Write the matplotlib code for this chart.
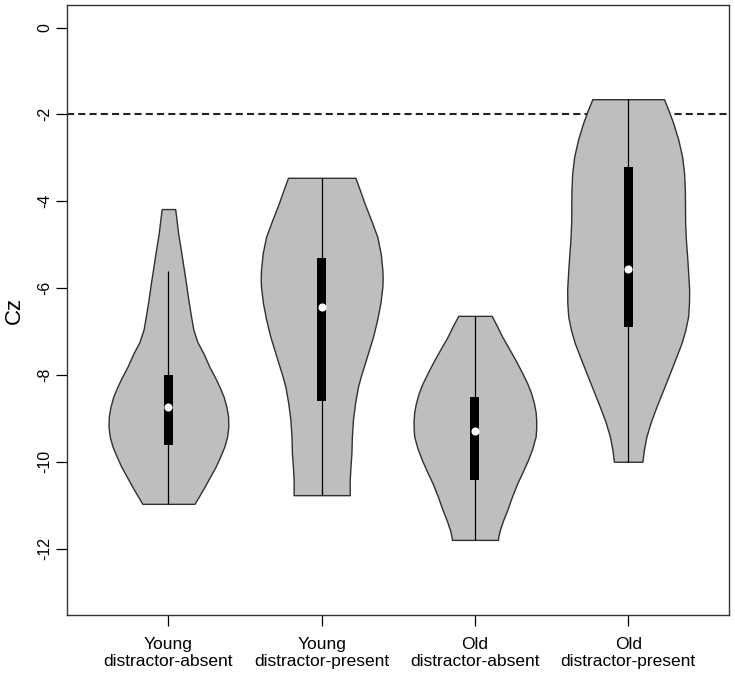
import matplotlib
matplotlib.use("Agg")
import matplotlib.pyplot as plt
import numpy as np

plt.rcParams['font.family'] = ['Liberation Sans', 'DejaVu Sans']

categories = ["Young\ndistractor-absent", "Young\ndistractor-present",
              "Old\ndistractor-absent", "Old\ndistractor-present"]

# violin outlines: y levels and half-widths
v1_y = [-4.18, -4.40, -4.73, -5.10, -5.51, -5.90, -6.27, -6.60, -6.95, -7.25, -7.50, -7.81, -8.05,
        -8.27, -8.50, -8.73, -8.95, -9.19, -9.42, -9.65, -9.88, -10.12, -10.35, -10.58, -10.78, -10.97]
v1_w = [0.044, 0.052, 0.063, 0.080, 0.098, 0.115, 0.130, 0.145, 0.162, 0.190, 0.228, 0.267, 0.303,
        0.333, 0.360, 0.378, 0.389, 0.391, 0.383, 0.365, 0.338, 0.307, 0.271, 0.235, 0.202, 0.170]
v2_y = [-3.46, -3.75, -4.05, -4.43, -4.82, -5.20, -5.58, -5.80, -5.97, -6.35, -6.73, -7.12, -7.43,
        -7.73, -8.00, -8.27, -8.65, -9.04, -9.43, -9.81, -10.10, -10.42, -10.77]
v2_w = [0.220, 0.250, 0.280, 0.322, 0.363, 0.385, 0.396, 0.398, 0.396, 0.383, 0.362, 0.335, 0.308,
        0.282, 0.258, 0.237, 0.218, 0.204, 0.197, 0.194, 0.188, 0.183, 0.183]
v3_y = [-6.64, -6.88, -7.12, -7.39, -7.66, -7.93, -8.19, -8.42, -8.65, -8.85, -9.04, -9.23, -9.42,
        -9.69, -9.96, -10.23, -10.50, -10.80, -11.11, -11.34, -11.57, -11.70, -11.80]
v3_w = [0.109, 0.145, 0.178, 0.222, 0.265, 0.305, 0.341, 0.367, 0.385, 0.396, 0.400, 0.400, 0.396,
        0.375, 0.346, 0.312, 0.276, 0.242, 0.211, 0.185, 0.163, 0.154, 0.150]
v4_y = [-1.65, -1.92, -2.20, -2.58, -2.97, -3.35, -3.74, -4.12, -4.51, -4.90, -5.28, -5.66, -6.04,
        -6.35, -6.66, -6.97, -7.27, -7.60, -7.96, -8.35, -8.73, -9.08, -9.42, -9.72, -10.00]
v4_w = [0.234, 0.265, 0.294, 0.327, 0.352, 0.365, 0.370, 0.371, 0.372, 0.377, 0.385, 0.392, 0.398,
        0.397, 0.391, 0.373, 0.348, 0.312, 0.272, 0.228, 0.185, 0.148, 0.119, 0.103, 0.093]

q1 = [-9.62, -8.60, -10.41, -6.90]
q3 = [-8.00, -5.30, -8.50, -3.22]
medians = [-8.75, -6.43, -9.29, -5.57]
whisker_lo = [-10.97, -10.77, -11.80, -10.00]
whisker_hi = [-5.60, -3.46, -6.64, -1.65]
ref_line = -2
yticks = [0, -2, -4, -6, -8, -10, -12]

violins_y = [v1_y, v2_y, v3_y, v4_y]
violins_w = [v1_w, v2_w, v3_w, v4_w]

fig = plt.figure(figsize=(7.35, 6.82), dpi=100)
ax = fig.add_axes([67.3/735, 1 - 615/682, (729.3-67.3)/735, (615-5)/682])

pos = np.arange(1, len(categories) + 1)
for i, p in enumerate(pos):
    y = np.array(violins_y[i])
    w = np.array(violins_w[i])
    ax.fill_betweenx(y, p - w, p + w, facecolor='#bebebe', edgecolor='#303030',
                     linewidth=1.0, zorder=2)
ax.vlines(pos, whisker_lo, whisker_hi, color='black', linewidth=0.9, zorder=3)
ax.bar(pos, np.array(q3) - np.array(q1), bottom=q1, width=0.058,
       color='black', zorder=4)
ax.scatter(pos, medians, s=34, color='white', zorder=5, linewidths=0)
ax.axhline(ref_line, color='#222222', linewidth=1.5, linestyle=(0, (3.4, 2.0)), zorder=1)

ax.set_xlim(0.34, 4.66)
ax.set_ylim(-13.53, 0.52)
ax.set_xticks(pos)
ax.set_xticklabels(categories, fontsize=12.5, linespacing=1.15)
ax.set_yticks(yticks)
ax.set_yticklabels([str(t) for t in yticks], rotation=90, va='center', fontsize=11.5)
ax.tick_params(axis='y', length=8, width=0.9, pad=2.5)
ax.tick_params(axis='x', length=8, width=0.9, pad=8)
ax.set_ylabel("Cz", fontsize=16, labelpad=9)
for s in ax.spines.values():
    s.set_linewidth(1.0)
    s.set_color('#333333')

fig.savefig("out.png", dpi=100)
